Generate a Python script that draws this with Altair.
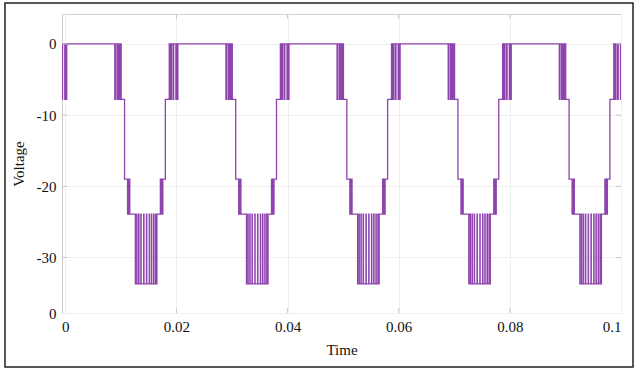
import altair as alt
import pandas as pd

# Levels of the stepped waveform (V)
L0, L1, L2, L3, L4 = 0.0, -7.8, -19.0, -23.9, -33.7

# One period of the waveform: switching instants relative to the period start (s)
TEMPLATE_T = [
    -0.0020, -0.0013, -0.0011, -0.0009, -0.0006, -0.0005, -0.0001, 0.0000, 0.0002, 0.00025,
    0.0089, 0.0090, 0.0093, 0.0095, 0.0096, 0.0098, 0.0099, 0.0100, 0.01005,
    0.01066, 0.0112, 0.0113, 0.0114, 0.01155, 0.0116,
    0.0126, 0.01285, 0.0129, 0.0132, 0.01325, 0.0136, 0.01365, 0.0141, 0.01415,
    0.0146, 0.01465, 0.0151, 0.01515, 0.0155, 0.01555, 0.0159, 0.01595, 0.01625,
    0.0163, 0.01648,
    0.0171, 0.01725, 0.0174, 0.0175, 0.01755,
]
TEMPLATE_V = [
    L1, L0, L1, L0, L1, L0, L1, L0, L1, L0,
    L1, L0, L1, L0, L1, L0, L1, L0, L1,
    L2, L3, L2, L3, L2, L3,
    L4, L3, L4, L3, L4, L3, L4, L3, L4,
    L3, L4, L3, L4, L3, L4, L3, L4, L3,
    L4, L3,
    L2, L3, L2, L3, L2,
]
PERIOD_STARTS = [0.0, 0.02, 0.04, 0.06, 0.08, 0.10]

X_TICKS = [0, 0.02, 0.04, 0.06, 0.08, 0.1]
Y_TICKS = [-37.8, -30, -20, -10, 0]
X_DOMAIN = [-0.0006, 0.1]
Y_DOMAIN = [-37.8, 4.2]

rows = []
for p in PERIOD_STARTS:
    for rt, v in zip(TEMPLATE_T, TEMPLATE_V):
        rows.append({"t": round(p + rt, 6), "v": v})
rows.append({"t": PERIOD_STARTS[-1] + 0.018, "v": L2})
df = pd.DataFrame(rows)

W, H = 559, 299
FONT = "Liberation Serif"

xs = alt.Scale(domain=X_DOMAIN, nice=False, zero=False)
ys = alt.Scale(domain=Y_DOMAIN, nice=False, zero=False)

line = alt.Chart(df).mark_line(
    interpolate="step-after", clip=True, color="#8E44AD", strokeWidth=1.3
).encode(
    x=alt.X("t:Q", scale=xs, title="Time",
            axis=alt.Axis(values=X_TICKS, labelExpr="'' + datum.value",
                          grid=True, gridColor="#efefef", ticks=False,
                          domain=False, labelPadding=6, titlePadding=8)),
    y=alt.Y("v:Q", scale=ys, title="Voltage",
            axis=alt.Axis(values=Y_TICKS,
                          labelExpr="datum.value < -35 ? '0' : '' + datum.value",
                          grid=True, gridColor="#efefef", ticks=False,
                          domain=False, labelPadding=6, titlePadding=10)),
    order="t:Q",
)

ytick_df = pd.DataFrame({"y": [-30, -20, -10, 0]})
xtick_df = pd.DataFrame({"x": [0.02, 0.04, 0.06, 0.08]})
tc = "#c8c8c8"
yt_left = alt.Chart(ytick_df).mark_rule(color=tc).encode(
    y=alt.Y("y:Q", scale=ys), x=alt.value(0), x2=alt.value(5))
yt_right = alt.Chart(ytick_df).mark_rule(color=tc).encode(
    y=alt.Y("y:Q", scale=ys), x=alt.value(W - 5), x2=alt.value(W))
xt_top = alt.Chart(xtick_df).mark_rule(color=tc).encode(
    x=alt.X("x:Q", scale=xs), y=alt.value(0), y2=alt.value(5))
xt_bot = alt.Chart(xtick_df).mark_rule(color=tc).encode(
    x=alt.X("x:Q", scale=xs), y=alt.value(H - 5), y2=alt.value(H))

border = alt.Chart(pd.DataFrame({"a": [0]})).mark_rect(
    fill=None, stroke="#222222", strokeWidth=1.5, clip=False
).encode(x=alt.value(-57), x2=alt.value(571), y=alt.value(-11), y2=alt.value(353))

chart = alt.layer(line, yt_left, yt_right, xt_top, xt_bot, border).properties(
    width=W, height=H,
    autosize=alt.AutoSizeParams(type="none"),
    padding={"left": 62, "top": 14, "right": 15, "bottom": 57},
    background="white",
).configure_view(
    stroke="#cfcfcf", strokeWidth=1
).configure_axis(
    labelFont=FONT, titleFont=FONT, labelFontSize=15, titleFontSize=15,
    labelColor="#111111", titleColor="#111111", titleFontWeight="normal",
)

chart.save("out.html", embed_options={"renderer": "svg", "actions": False})
